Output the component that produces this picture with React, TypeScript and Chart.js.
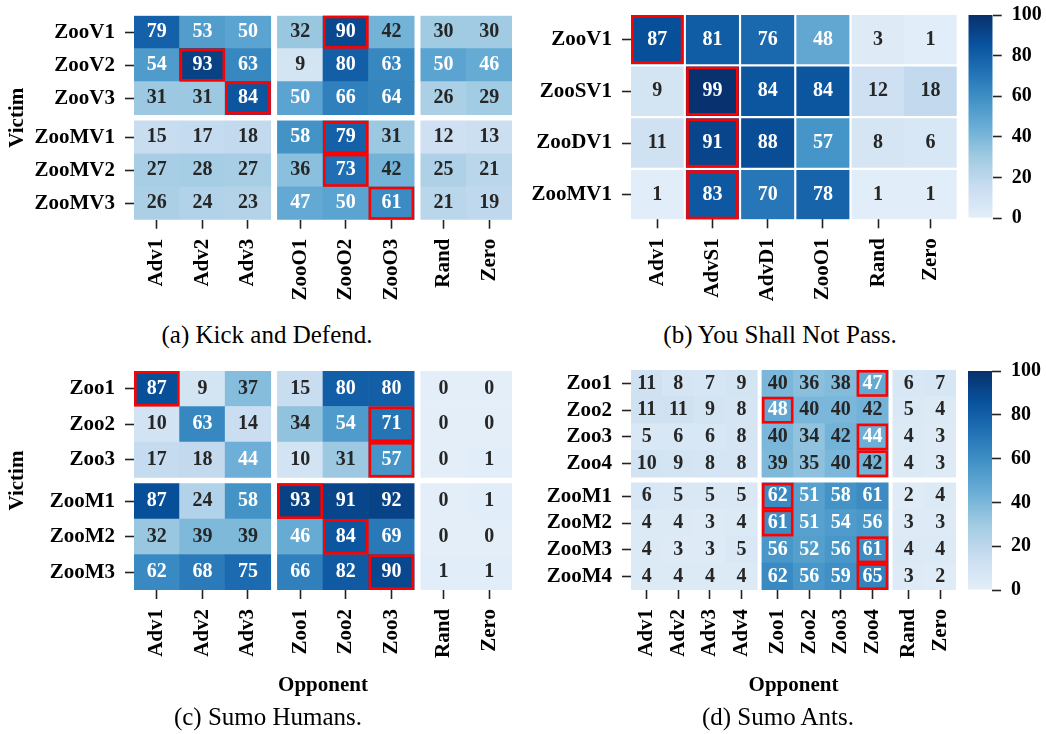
import React, { useEffect, useRef } from 'react';
import { Chart, registerables } from 'chart.js';

Chart.register(...registerables);

const FONT = "'Liberation Serif', 'Times New Roman', Times, serif";

// ---------------- data ----------------
// (a) Kick and Defend
const kdVictims = ['ZooV1', 'ZooV2', 'ZooV3', 'ZooMV1', 'ZooMV2', 'ZooMV3'];
const kdOpponents = ['Adv1', 'Adv2', 'Adv3', 'ZooO1', 'ZooO2', 'ZooO3', 'Rand', 'Zero'];
const kdWinRates = [
  [79, 53, 50, 32, 90, 42, 30, 30],
  [54, 93, 63, 9, 80, 63, 50, 46],
  [31, 31, 84, 50, 66, 64, 26, 29],
  [15, 17, 18, 58, 79, 31, 12, 13],
  [27, 28, 27, 36, 73, 42, 25, 21],
  [26, 24, 23, 47, 50, 61, 21, 19],
];
const kdVictimGroups = [3, 3];
const kdOpponentGroups = [3, 3, 2];
const kdHighlights = [[0, 4], [1, 1], [2, 2], [3, 4], [4, 4], [5, 5]];

// (b) You Shall Not Pass
const ysnpVictims = ['ZooV1', 'ZooSV1', 'ZooDV1', 'ZooMV1'];
const ysnpOpponents = ['Adv1', 'AdvS1', 'AdvD1', 'ZooO1', 'Rand', 'Zero'];
const ysnpWinRates = [
  [87, 81, 76, 48, 3, 1],
  [9, 99, 84, 84, 12, 18],
  [11, 91, 88, 57, 8, 6],
  [1, 83, 70, 78, 1, 1],
];
const ysnpVictimGroups = [1, 1, 1, 1];
const ysnpOpponentGroups = [1, 1, 1, 1, 2];
const ysnpHighlights = [[0, 0], [1, 1], [2, 1], [3, 1]];

// (c) Sumo Humans
const shVictims = ['Zoo1', 'Zoo2', 'Zoo3', 'ZooM1', 'ZooM2', 'ZooM3'];
const shOpponents = ['Adv1', 'Adv2', 'Adv3', 'Zoo1', 'Zoo2', 'Zoo3', 'Rand', 'Zero'];
const shWinRates = [
  [87, 9, 37, 15, 80, 80, 0, 0],
  [10, 63, 14, 34, 54, 71, 0, 0],
  [17, 18, 44, 10, 31, 57, 0, 1],
  [87, 24, 58, 93, 91, 92, 0, 1],
  [32, 39, 39, 46, 84, 69, 0, 0],
  [62, 68, 75, 66, 82, 90, 1, 1],
];
const shVictimGroups = [3, 3];
const shOpponentGroups = [3, 3, 2];
const shHighlights = [[0, 0], [1, 5], [2, 5], [3, 3], [4, 4], [5, 5]];

// (d) Sumo Ants
const saVictims = ['Zoo1', 'Zoo2', 'Zoo3', 'Zoo4', 'ZooM1', 'ZooM2', 'ZooM3', 'ZooM4'];
const saOpponents = ['Adv1', 'Adv2', 'Adv3', 'Adv4', 'Zoo1', 'Zoo2', 'Zoo3', 'Zoo4', 'Rand', 'Zero'];
const saWinRates = [
  [11, 8, 7, 9, 40, 36, 38, 47, 6, 7],
  [11, 11, 9, 8, 48, 40, 40, 42, 5, 4],
  [5, 6, 6, 8, 40, 34, 42, 44, 4, 3],
  [10, 9, 8, 8, 39, 35, 40, 42, 4, 3],
  [6, 5, 5, 5, 62, 51, 58, 61, 2, 4],
  [4, 4, 3, 4, 61, 51, 54, 56, 3, 3],
  [4, 3, 3, 5, 56, 52, 56, 61, 4, 4],
  [4, 4, 4, 4, 62, 56, 59, 65, 3, 2],
];
const saVictimGroups = [4, 4];
const saOpponentGroups = [4, 4, 2];
const saHighlights = [[0, 7], [1, 4], [2, 7], [3, 7], [4, 4], [5, 4], [6, 7], [7, 7]];

const colorbarRange = [0, 100];
const colorbarStep = 20;

const captions = ['(a) Kick and Defend.', '(b) You Shall Not Pass.', '(c) Sumo Humans.', '(d) Sumo Ants.'];
const victimTitle = 'Victim';
const opponentTitle = 'Opponent';

// ---------------- colours ----------------
const BLUES = [
  [247, 251, 255], [222, 235, 247], [198, 219, 239], [158, 202, 225], [107, 174, 214],
  [66, 146, 198], [33, 113, 181], [8, 81, 156], [8, 48, 107],
];
function bluesRGB(t: number) {
  const tt = Math.max(0, Math.min(1, t)) * (BLUES.length - 1);
  const i = Math.min(BLUES.length - 2, Math.floor(tt));
  const f = tt - i;
  return BLUES[i].map((c, k) => c + (BLUES[i + 1][k] - c) * f);
}
function valueRGB(v: number) {
  return bluesRGB(0.1 + 0.9 * (v - colorbarRange[0]) / (colorbarRange[1] - colorbarRange[0]));
}
function valueColor(v: number) {
  const [r, g, b] = valueRGB(v);
  return `rgb(${Math.round(r)},${Math.round(g)},${Math.round(b)})`;
}
function textColor(v: number) {
  const lin = valueRGB(v).map((c) => {
    const s = c / 255;
    return s <= 0.03928 ? s / 12.92 : Math.pow((s + 0.055) / 1.055, 2.4);
  });
  const lum = 0.2126 * lin[0] + 0.7152 * lin[1] + 0.0722 * lin[2];
  return lum > 0.408 ? '#262626' : '#ffffff';
}

// ---------------- layout ----------------
type Box = { left: number; top: number; width: number; height: number };
type Area = { left: number; top: number; right: number; bottom: number };

type PanelSpec = {
  rows: string[]; cols: string[]; values: number[][];
  rowGroups: number[]; colGroups: number[]; highlights: number[][];
  box: Box; area: Area; rowGap: number; colGap: number;
  yTitle?: string; xTitle?: string;
};

const panels: PanelSpec[] = [
  {
    rows: kdVictims, cols: kdOpponents, values: kdWinRates, rowGroups: kdVictimGroups,
    colGroups: kdOpponentGroups, highlights: kdHighlights,
    box: { left: 0, top: 0, width: 520, height: 320 },
    area: { left: 134, top: 15.7, right: 512, bottom: 219.7 },
    rowGap: 0.19, colGap: 0.146, yTitle: victimTitle,
  },
  {
    rows: ysnpVictims, cols: ysnpOpponents, values: ysnpWinRates, rowGroups: ysnpVictimGroups,
    colGroups: ysnpOpponentGroups, highlights: ysnpHighlights,
    box: { left: 520, top: 0, width: 442, height: 320 },
    area: { left: 111, top: 15, right: 436.7, bottom: 219.3 },
    rowGap: 0.057, colGap: 0.054,
  },
  {
    rows: shVictims, cols: shOpponents, values: shWinRates, rowGroups: shVictimGroups,
    colGroups: shOpponentGroups, highlights: shHighlights,
    box: { left: 0, top: 350, width: 520, height: 384 },
    area: { left: 134, top: 21, right: 512, bottom: 240 },
    rowGap: 0.17, colGap: 0.146, yTitle: victimTitle, xTitle: opponentTitle,
  },
  {
    rows: saVictims, cols: saOpponents, values: saWinRates, rowGroups: saVictimGroups,
    colGroups: saOpponentGroups, highlights: saHighlights,
    box: { left: 520, top: 350, width: 442, height: 384 },
    area: { left: 111, top: 20, right: 436, bottom: 240 },
    rowGap: 0.21, colGap: 0.147, xTitle: opponentTitle,
  },
];

const colorbars: { box: Box; area: Area }[] = [
  { box: { left: 962, top: 0, width: 84, height: 240 }, area: { left: 6.3, top: 15, right: 30.7, bottom: 218.3 } },
  { box: { left: 962, top: 355, width: 84, height: 260 }, area: { left: 6, top: 16, right: 30, bottom: 235 } },
];

const captionPos = [
  { x: 267, y: 334 }, { x: 780, y: 334 }, { x: 268, y: 716 }, { x: 778, y: 716 },
];

function centers(groups: number[], gap: number) {
  const out: number[] = [];
  let start = 0;
  groups.forEach((g) => {
    for (let k = 0; k < g; k++) out.push(start + k + 0.5);
    start += g + gap;
  });
  return { pos: out, extent: start - gap };
}

const tickFont = { family: FONT, size: 21, weight: 'bold' as const };
const tickGrid = {
  display: true, drawOnChartArea: false, drawTicks: true, tickLength: 9,
  tickWidth: 1.6, tickColor: '#222', offset: false,
};

function Heatmap({ spec }: { spec: PanelSpec }) {
  const ref = useRef<HTMLCanvasElement>(null);
  useEffect(() => {
    const { box, area } = spec;
    const cx = centers(spec.colGroups, spec.colGap);
    const cy = centers(spec.rowGroups, spec.rowGap);
    const nCols = spec.cols.length;
    const cells: any[] = [];
    spec.values.forEach((row, r) =>
      row.forEach((v, c) => cells.push({ x: cx.pos[c], y: [cy.pos[r] - 0.5, cy.pos[r] + 0.5], v })));

    const cellPlugin = {
      id: 'cellAnnotations',
      afterDatasetsDraw(chart: any) {
        const ctx = chart.ctx;
        const meta = chart.getDatasetMeta(0);
        ctx.save();
        ctx.font = `bold 20px ${FONT}`;
        ctx.textAlign = 'center';
        ctx.textBaseline = 'middle';
        meta.data.forEach((el: any, i: number) => {
          const d = cells[i];
          const p = el.getProps(['x', 'y', 'base'], true);
          ctx.fillStyle = textColor(d.v);
          ctx.fillText(String(d.v), p.x, (p.y + p.base) / 2);
        });
        ctx.strokeStyle = '#ff0000';
        ctx.lineWidth = 2.6;
        spec.highlights.forEach(([r, c]) => {
          const el = meta.data[r * nCols + c];
          const p = el.getProps(['x', 'y', 'base', 'width'], true);
          const top = Math.min(p.y, p.base);
          const h = Math.abs(p.base - p.y);
          const ins = 1.3;
          ctx.strokeRect(p.x - p.width / 2 + ins, top + ins, p.width - 2 * ins, h - 2 * ins);
        });
        ctx.restore();
      },
    };

    const chart = new Chart(ref.current as HTMLCanvasElement, {
      type: 'bar',
      data: {
        datasets: [{
          data: cells,
          backgroundColor: cells.map((d) => valueColor(d.v)),
          borderWidth: 0,
          inflateAmount: 0.33,
          barPercentage: 1,
          categoryPercentage: 1,
          grouped: false,
        } as any],
      },
      options: {
        responsive: false,
        animation: false,
        events: [],
        layout: {
          padding: { left: 0, top: area.top, right: box.width - area.right, bottom: 0 },
        },
        plugins: { legend: { display: false }, tooltip: { enabled: false }, title: { display: false } },
        scales: {
          x: {
            type: 'linear', min: 0, max: cx.extent, offset: false,
            afterBuildTicks: (s: any) => { s.ticks = cx.pos.map((v) => ({ value: v })); },
            afterFit: (s: any) => {
              s.height = box.height - area.bottom;
              s.paddingLeft = 0; s.paddingRight = 0; s.paddingTop = 0; s.paddingBottom = 0;
            },
            ticks: {
              autoSkip: false, minRotation: 90, maxRotation: 90, padding: 10, color: '#000',
              font: tickFont, callback: (_v: any, i: number) => spec.cols[i],
            },
            grid: tickGrid,
            border: { display: false },
            title: spec.xTitle
              ? { display: true, text: spec.xTitle, color: '#000', font: tickFont, padding: { top: 0, bottom: 36 } }
              : { display: false },
          },
          y: {
            type: 'linear', reverse: true, min: 0, max: cy.extent, offset: false,
            afterBuildTicks: (s: any) => { s.ticks = cy.pos.map((v) => ({ value: v })); },
            afterFit: (s: any) => {
              s.width = area.left;
              s.paddingLeft = 0; s.paddingRight = 0; s.paddingTop = 0; s.paddingBottom = 0;
            },
            ticks: {
              autoSkip: false, padding: 10, color: '#000', font: tickFont,
              callback: (_v: any, i: number) => spec.rows[i],
            },
            grid: tickGrid,
            border: { display: false },
            title: spec.yTitle
              ? { display: true, text: spec.yTitle, color: '#000', font: tickFont, padding: { top: 5, bottom: 0 } }
              : { display: false },
          },
        },
      } as any,
      plugins: [cellPlugin],
    });
    return () => chart.destroy();
  }, [spec]);
  return (
    <canvas
      ref={ref}
      width={spec.box.width}
      height={spec.box.height}
      style={{ position: 'absolute', left: spec.box.left, top: spec.box.top }}
    />
  );
}

function Colorbar({ box, area }: { box: Box; area: Area }) {
  const ref = useRef<HTMLCanvasElement>(null);
  useEffect(() => {
    const chart = new Chart(ref.current as HTMLCanvasElement, {
      type: 'bar',
      data: {
        labels: [''],
        datasets: [{
          data: [colorbarRange[1]],
          backgroundColor: (c: any) => {
            const ca = c.chart.chartArea;
            if (!ca) return 'rgba(0,0,0,0)';
            const g = c.chart.ctx.createLinearGradient(0, ca.bottom, 0, ca.top);
            for (let i = 0; i <= 50; i++) {
              const s = i / 50;
              g.addColorStop(s, valueColor(colorbarRange[0] + s * (colorbarRange[1] - colorbarRange[0])));
            }
            return g;
          },
          borderWidth: 0,
          inflateAmount: 0,
          barPercentage: 1,
          categoryPercentage: 1,
        } as any],
      },
      options: {
        responsive: false,
        animation: false,
        events: [],
        layout: { padding: { left: area.left, top: area.top, right: 0, bottom: box.height - area.bottom } },
        plugins: { legend: { display: false }, tooltip: { enabled: false } },
        scales: {
          x: { type: 'category', display: false, offset: true },
          y: {
            type: 'linear', position: 'right', min: colorbarRange[0], max: colorbarRange[1],
            afterFit: (s: any) => {
              s.width = box.width - area.right;
              s.paddingTop = 0; s.paddingBottom = 0;
            },
            ticks: { stepSize: colorbarStep, padding: 10, color: '#000', font: { family: FONT, size: 20, weight: 'bold' } },
            grid: tickGrid,
            border: { display: false },
          },
        },
      } as any,
    });
    return () => chart.destroy();
  }, [box, area]);
  return (
    <canvas ref={ref} width={box.width} height={box.height}
      style={{ position: 'absolute', left: box.left, top: box.top }} />
  );
}

export default function App() {
  return (
    <div style={{ position: 'absolute', left: 0, top: 0, width: 1046, height: 734, background: '#fff', overflow: 'hidden' }}>
      {panels.map((p, i) => <Heatmap key={i} spec={p} />)}
      {colorbars.map((c, i) => <Colorbar key={i} box={c.box} area={c.area} />)}
      {captions.map((t, i) => (
        <div key={i} style={{
          position: 'absolute', left: captionPos[i].x, top: captionPos[i].y,
          transform: 'translate(-50%, -50%)', font: `25px ${FONT}`, lineHeight: 1,
          whiteSpace: 'nowrap', color: '#000',
        }}>{t}</div>
      ))}
    </div>
  );
}
